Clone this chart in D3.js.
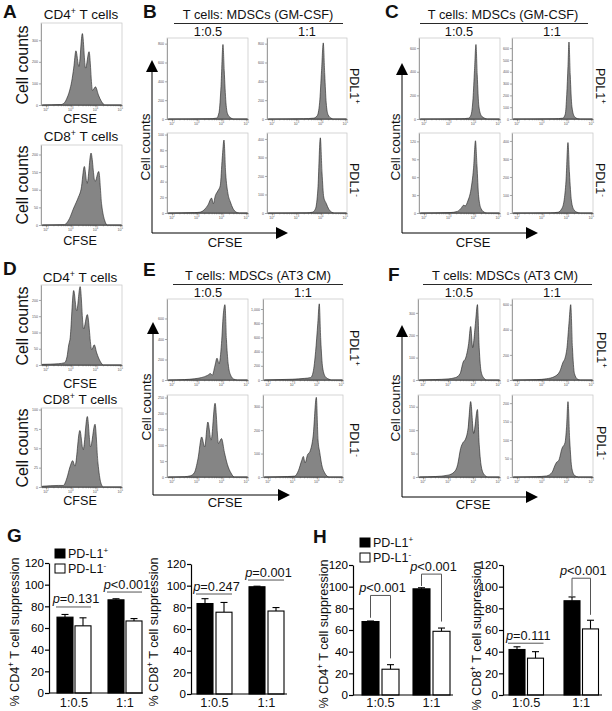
<!DOCTYPE html>
<html>
<head>
<meta charset="utf-8">
<script src="https://cdn.jsdelivr.net/npm/d3@7"></script>
<style>
  body { margin: 0; background: #fff; }
  svg { font-family: "Liberation Sans", Arial, sans-serif; }
</style>
</head>
<body>
<svg id="fig" width="612" height="711"></svg>
<script>
// ---- histogram data: [log10 CFSE, cell count] ----
var cfseDecades = [2, 3, 4, 5];

// A: CD4 / CD8 alone (GM-CSF experiment)
var hA4 = [[1.85,0],[2.6,2],[2.75,11],[2.84,30],[2.95,65],[3.04,110],[3.12,171],[3.21,251],[3.33,179],[3.47,331],[3.6,171],[3.74,247],[3.88,68],[4.0,84],[4.12,46],[4.25,15],[4.38,0],[5.05,0]];
var tA4 = [0, 100, 200, 300], topA4 = 380;
var hA8 = [[1.85,0],[2.75,1],[2.85,7],[2.98,23],[3.1,45],[3.22,64],[3.31,79],[3.42,102],[3.55,166],[3.66,118],[3.82,204],[3.98,123],[4.13,152],[4.25,57],[4.38,11],[4.48,0],[5.05,0]];
var tA8 = [0, 50, 100, 150, 200], topA8 = 227;

// B: CD4 + MDSCs (GM-CSF)
var hB1 = [[1.85,0],[3.5,3],[3.8,9],[3.9,69],[3.98,344],[4.06,791],[4.11,516],[4.18,172],[4.25,52],[4.35,17],[4.5,0],[5.05,0]];
var tB1 = [0, 200, 400, 600, 800], topB1 = 860;
var hB2 = [[1.85,0],[3.3,3],[3.7,9],[3.85,34],[3.95,172],[4.03,516],[4.1,808],[4.16,473],[4.22,172],[4.3,43],[4.42,9],[4.5,0],[5.05,0]];
var tB2 = [0, 200, 400, 600, 800], topB2 = 860;
var hB3 = [[1.85,0],[2.9,0.5],[3.13,1],[3.3,4],[3.45,10],[3.6,19],[3.67,12],[3.75,22],[3.85,28],[3.95,35],[4.03,70],[4.1,93],[4.17,50],[4.26,25],[4.36,14],[4.46,6],[4.6,1],[4.72,0],[5.05,0]];
var tB3 = [0, 20, 40, 60, 80, 100], topB3 = 102;
var hB4 = [[1.85,0],[3.4,1],[3.65,4],[3.78,22],[3.88,130],[3.98,406],[4.05,216],[4.12,86],[4.22,52],[4.32,22],[4.45,4],[4.55,0],[5.05,0]];
var tB4 = [0, 100, 200, 300, 400], topB4 = 432;

// C: CD8 + MDSCs (GM-CSF)
var hC1 = [[1.85,0],[3.5,2],[3.8,7],[3.9,34],[3.98,172],[4.04,412],[4.1,631],[4.15,377],[4.22,103],[4.32,27],[4.45,7],[4.55,0],[5.05,0]];
var tC1 = [0, 200, 400, 600], topC1 = 686;
var hC2 = [[1.85,0],[3.5,2],[3.85,7],[3.95,41],[4.01,206],[4.06,446],[4.1,652],[4.15,377],[4.22,103],[4.32,21],[4.45,3],[4.55,0],[5.05,0]];
var tC2 = [0, 100, 200, 300, 400, 500, 600], topC2 = 686;
var hC3 = [[1.85,0],[3.05,0.7],[3.35,2.7],[3.5,8],[3.6,13],[3.67,12],[3.77,20],[3.9,40],[4.0,74],[4.08,121],[4.14,80],[4.21,27],[4.31,7],[4.45,1],[4.55,0],[5.05,0]];
var tC3 = [0, 30, 60, 90, 120], topC3 = 134;
var hC4 = [[1.85,0],[3.35,1],[3.65,4],[3.8,22],[3.9,67],[3.98,178],[4.06,391],[4.12,222],[4.2,67],[4.3,18],[4.43,4],[4.55,0],[5.05,0]];
var tC4 = [0, 100, 200, 300, 400], topC4 = 444;

// D: CD4 / CD8 alone (AT3 CM experiment)
var hD4 = [[1.85,2],[2.5,4],[2.75,7],[2.85,25],[2.92,62],[2.97,79],[3.12,229],[3.24,167],[3.38,241],[3.52,111],[3.67,155],[3.85,47],[3.95,62],[4.05,37],[4.2,10],[4.32,0],[5.05,0]];
var tD4 = [0, 50, 100, 150, 200], topD4 = 246;
var hD8 = [[1.85,1],[2.5,2],[2.7,2],[2.85,12],[2.97,26],[3.08,34],[3.17,27],[3.37,73],[3.5,48],[3.67,91],[3.8,52],[3.98,81],[4.1,31],[4.22,5],[4.32,0],[5.05,0]];
var tD8 = [0, 25, 50, 75, 100], topD8 = 102;

// E: CD4 + MDSCs (AT3 CM)
var hE1 = [[1.85,0],[2.5,4],[2.9,12],[3.2,24],[3.45,47],[3.55,63],[3.63,47],[3.73,134],[3.82,213],[3.9,158],[4.0,356],[4.07,632],[4.14,735],[4.2,395],[4.27,158],[4.37,47],[4.5,8],[4.65,0],[5.05,0]];
var tE1 = [0, 200, 400, 600], topE1 = 790;
var hE2 = [[1.85,0],[2.5,6],[3.0,11],[3.5,23],[3.75,34],[3.85,114],[3.95,399],[4.04,799],[4.1,1073],[4.16,571],[4.24,171],[4.35,46],[4.5,11],[4.6,0],[5.05,0]];
var tE2 = [0, 200, 400, 600, 800, 1000], topE2 = 1141;
var hE3 = [[1.85,0],[2.5,1],[2.75,4],[2.9,13],[3.05,57],[3.2,126],[3.32,95],[3.45,173],[3.58,116],[3.74,232],[3.88,106],[4.0,121],[4.12,77],[4.24,39],[4.38,13],[4.52,0],[5.05,0]];
var tE3 = [0, 50, 100, 150, 200, 250], topE3 = 258;
var hE4 = [[1.85,0],[2.8,2],[3.1,4],[3.25,28],[3.38,70],[3.45,88],[3.52,60],[3.62,95],[3.72,109],[3.85,175],[3.98,340],[4.05,158],[4.12,105],[4.2,53],[4.32,18],[4.5,0],[5.05,0]];
var tE4 = [0, 100, 200, 300], topE4 = 350;

// F: CD8 + MDSCs (AT3 CM)
var hF1 = [[1.85,0],[2.5,2],[3.0,5],[3.3,11],[3.48,29],[3.6,80],[3.7,98],[3.82,163],[3.9,239],[3.98,145],[4.09,253],[4.17,337],[4.24,145],[4.32,36],[4.44,7],[4.55,0],[5.05,0]];
var tF1 = [0, 100, 200, 300], topF1 = 362;
var hF2 = [[1.85,0],[2.8,3],[3.2,10],[3.5,26],[3.72,65],[3.86,142],[3.94,174],[4.02,258],[4.1,452],[4.17,600],[4.24,258],[4.32,52],[4.45,6],[4.55,0],[5.05,0]];
var tF2 = [0, 200, 400, 600], topF2 = 645;
var hF3 = [[1.85,0],[2.5,1],[3.0,4],[3.25,11],[3.38,26],[3.5,61],[3.6,74],[3.68,79],[3.8,105],[3.9,161],[4.02,93],[4.17,144],[4.24,70],[4.34,18],[4.46,4],[4.6,0],[5.05,0]];
var tF3 = [0, 50, 100, 150], topF3 = 175;
var hF4 = [[1.85,0],[2.8,1],[3.2,3],[3.42,13],[3.53,31],[3.6,40],[3.68,44],[3.82,78],[3.94,93],[4.0,133],[4.06,204],[4.13,100],[4.22,22],[4.33,4],[4.48,0],[5.05,0]];
var tF4 = [0, 50, 100, 150, 200], topF4 = 222;

// ---- bar chart data (% suppression, mean and SEM) ----
var groups = ['1:0.5', '1:1'];
var pctTicks = [0, 20, 40, 60, 80, 100, 120];

var gCD4pos = [70, 86],   gCD4posErr = [2.5, 1];
var gCD4neg = [62, 66.5], gCD4negErr = [7.4, 2.2];
var gCD8pos = [83.5, 99], gCD8posErr = [4.5, 0.5];
var gCD8neg = [75.5, 76.6], gCD8negErr = [9, 3.2];

var hCD4pos = [67.8, 98], hCD4posErr = [0.5, 1];
var hCD4neg = [23.8, 58.8], hCD4negErr = [4.2, 3];
var hCD8pos = [42, 87],   hCD8posErr = [2.5, 3.5];
var hCD8neg = [34, 61],   hCD8negErr = [6, 8];

// p values: label, line level, bracket ends (pos side, neg side) or null for a flat line
var gCD4sig = [['=0.131', 79.4, null], ['<0.001', 93.2, null]];
var gCD8sig = [['=0.247', 92.3, null], ['=0.001', 105.2, null]];
var hCD4sig = [['<0.001', 91.9, [71.3, 33.8]], ['<0.001', 111.6, [100.6, 67.8]]];
var hCD8sig = [['=0.111', 47.8, null], ['<0.001', 107.8, [91, 74]]];

// ------------------------------------------------------------------
var svg = d3.select('#fig');
var FONT = '"Liberation Sans", Arial, sans-serif';

// text with superscripts / italics; parts = [[str, kind], ...]
function rich(sel, parts, fs) {
  var up = false;
  parts.forEach(function(p) {
    var t = sel.append('tspan').text(p[0]);
    if (p[1] === 'sup') {
      t.attr('font-size', fs * 0.65).attr('dy', -fs * 0.4);
      up = true;
    } else {
      if (up) { t.attr('dy', fs * 0.4); up = false; }
      if (p[1] === 'i') t.attr('font-style', 'italic');
    }
  });
}

function txt(x, y, parts, fs, anchor, rot, weight) {
  var t = svg.append('text')
      .attr('transform', 'translate(' + x + ',' + y + ')' + (rot ? ' rotate(' + rot + ')' : ''))
      .attr('font-size', fs)
      .attr('text-anchor', anchor || 'start')
      .attr('fill', '#111');
  if (weight) t.attr('font-weight', weight);
  if (typeof parts === 'string') t.text(parts);
  else rich(t, parts, fs);
  return t;
}

function styleAxis(sel, w, col, fs) {
  sel.selectAll('path, line').attr('stroke', col).attr('stroke-width', w);
  sel.selectAll('text').attr('font-size', fs).attr('font-family', FONT).attr('fill', col);
}

var LOG_MIN = 1.8, LOG_MAX = 5.07;

function histogram(box, pts, ticks, top) {
  var w = box[2], h = box[3];
  var g = svg.append('g').attr('transform', 'translate(' + box[0] + ',' + box[1] + ')');

  var x = d3.scaleLog().domain([Math.pow(10, LOG_MIN), Math.pow(10, LOG_MAX)]).range([0, w]);
  var y = d3.scaleLinear().domain([0, top]).range([h, 0]);

  var area = d3.area()
      .x(function(d) { return x(Math.pow(10, d[0])); })
      .y0(h)
      .y1(function(d) { return y(d[1]); })
      .curve(d3.curveMonotoneX);

  g.append('rect')
      .attr('width', w).attr('height', h)
      .attr('fill', 'none').attr('stroke', '#c4c4c4').attr('stroke-width', 0.7);

  g.append('path')
      .datum(pts)
      .attr('d', area)
      .attr('fill', '#858585')
      .attr('stroke', '#1e1e1e')
      .attr('stroke-width', 0.6);

  var ya = g.append('g').call(d3.axisLeft(y).tickValues(ticks).tickSize(2).tickSizeOuter(0).tickPadding(1));
  styleAxis(ya, 0.5, '#555', 3.6);

  var decadeVals = cfseDecades.map(function(k) { return Math.pow(10, k); });
  var xm = g.append('g').attr('transform', 'translate(0,' + h + ')')
      .call(d3.axisBottom(x).tickValues(x.ticks()).tickSize(1.3).tickFormat('').tickSizeOuter(0));
  styleAxis(xm, 0.5, '#555', 3.6);
  var xa = g.append('g').attr('transform', 'translate(0,' + h + ')')
      .call(d3.axisBottom(x).tickValues(decadeVals).tickSize(2.4).tickFormat('').tickSizeOuter(0));
  styleAxis(xa, 0.5, '#555', 3.6);

  g.selectAll('.xlab')
      .data(cfseDecades)
      .enter().append('text')
      .attr('x', function(k) { return x(Math.pow(10, k)); })
      .attr('y', h + 5.6)
      .attr('text-anchor', 'middle')
      .attr('font-size', 3.6)
      .attr('fill', '#555')
      .each(function(k) {
        var t = d3.select(this);
        t.append('tspan').text('10');
        t.append('tspan').attr('dy', -1.3).attr('font-size', 2.6).text(k);
      });
}

function arrows(ax, tipY, baseY, tipX) {
  var g = svg.append('g').attr('fill', '#000').attr('stroke', '#000');
  g.append('line').attr('x1', ax).attr('y1', baseY).attr('x2', ax).attr('y2', tipY + 10).attr('stroke-width', 1);
  g.append('line').attr('x1', ax).attr('y1', baseY).attr('x2', tipX - 10).attr('y2', baseY).attr('stroke-width', 1);
  g.append('path').attr('stroke', 'none')
      .attr('d', 'M' + ax + ',' + tipY + 'L' + (ax + 6) + ',' + (tipY + 12) + 'L' + (ax - 6) + ',' + (tipY + 12) + 'Z');
  g.append('path').attr('stroke', 'none')
      .attr('d', 'M' + tipX + ',' + baseY + 'L' + (tipX - 12) + ',' + (baseY - 6) + 'L' + (tipX - 12) + ',' + (baseY + 6) + 'Z');
}

function header(cx, y, x1, x2, title) {
  txt(cx, y, title, 12.8, 'middle');
  svg.append('line').attr('x1', x1).attr('x2', x2).attr('y1', y + 4.5).attr('y2', y + 4.5)
      .attr('stroke', '#111').attr('stroke-width', 0.9);
}

// ---- histogram layout ----
var histPanels = [
  [hA4, tA4, topA4, [41, 23, 81, 82]],
  [hA8, tA8, topA8, [41, 145, 81, 80]],
  [hB1, tB1, topB1, [167, 38, 81, 81]],
  [hB2, tB2, topB2, [267, 38, 80, 81]],
  [hB3, tB3, topB3, [167, 133, 81, 80]],
  [hB4, tB4, topB4, [267, 133, 80, 80]],
  [hC1, tC1, topC1, [419, 38, 81, 81]],
  [hC2, tC2, topC2, [512, 38, 81, 81]],
  [hC3, tC3, topC3, [419, 133, 81, 80]],
  [hC4, tC4, topC4, [512, 133, 81, 80]],
  [hD4, tD4, topD4, [41, 285, 81, 80]],
  [hD8, tD8, topD8, [41, 408, 81, 79]],
  [hE1, tE1, topE1, [167, 299, 81, 81]],
  [hE2, tE2, topE2, [263, 299, 80, 81]],
  [hE3, tE3, topE3, [167, 395, 81, 82]],
  [hE4, tE4, topE4, [263, 395, 80, 82]],
  [hF1, tF1, topF1, [418, 299, 82, 81]],
  [hF2, tF2, topF2, [512, 299, 81, 81]],
  [hF3, tF3, topF3, [418, 395, 82, 82]],
  [hF4, tF4, topF4, [512, 395, 81, 82]]
];
histPanels.forEach(function(p) { histogram(p[3], p[0], p[1], p[2]); });

// panel letters
[['A', 3, 18], ['B', 143, 18], ['C', 385, 18], ['D', 3, 275], ['E', 143, 276], ['F', 388, 281], ['G', 7, 542], ['H', 313, 543]]
  .forEach(function(l) { txt(l[1], l[2], l[0], 19, 'start', 0, 'bold'); });

// A / D labels
var cd4 = [['CD4', ''], ['+', 'sup'], [' T cells', '']];
var cd8 = [['CD8', ''], ['+', 'sup'], [' T cells', '']];
txt(81, 19, cd4, 13.5, 'middle');
txt(81, 141, cd8, 13.5, 'middle');
txt(80, 282, cd4, 13.5, 'middle');
txt(80, 404, cd8, 13.5, 'middle');
[[123], [245], [388], [505]].forEach(function(r) { txt(80, r[0], 'CFSE', 12.6, 'middle'); });
[[65], [185], [326], [448]].forEach(function(r) { txt(28, r[0], 'Cell counts', 16, 'middle', -90); });

// B, C, E, F headers and labels
header(258, 19, 174, 343, 'T cells: MDSCs (GM-CSF)');
header(503, 19, 420, 588, 'T cells: MDSCs (GM-CSF)');
header(258, 280, 173, 343, 'T cells: MDSCs (AT3 CM)');
header(505, 280, 423, 592, 'T cells: MDSCs (AT3 CM)');

[[208, 36], [307, 36], [459, 36], [552, 36], [208, 297], [303, 297], [459, 297], [552, 297]]
  .forEach(function(r, i) { txt(r[0], r[1], i % 2 ? '1:1' : '1:0.5', 12.8, 'middle'); });

var pdlPos = [['PDL1', ''], ['+', 'sup']];
var pdlNeg = [['PDL1', ''], ['-', 'sup']];
[[350, 86, pdlPos], [350, 180, pdlNeg], [596, 86, pdlPos], [596, 180, pdlNeg],
 [350, 348, pdlPos], [350, 440, pdlNeg], [597, 350, pdlPos], [597, 443, pdlNeg]]
  .forEach(function(r) { txt(r[0], r[1], r[2], 12.5, 'middle', 90); });

arrows(152, 60, 233, 288);
arrows(402, 63, 233, 538);
arrows(153, 322, 495, 290);
arrows(402, 325, 497, 538);

txt(225, 247, 'CFSE', 13, 'middle');
txt(473, 247, 'CFSE', 13, 'middle');
txt(225, 507, 'CFSE', 13, 'middle');
txt(473, 509, 'CFSE', 13, 'middle');
txt(150, 147, 'Cell counts', 13.5, 'middle', -90);
txt(400, 147, 'Cell counts', 13.5, 'middle', -90);
txt(151, 407, 'Cell counts', 13.5, 'middle', -90);
txt(400, 408, 'Cell counts', 13.5, 'middle', -90);

// ---- bar charts ----
function barChart(cfg) {
  var y = d3.scaleLinear().domain([0, 120]).range([cfg.y0, cfg.y120]);
  var gx = d3.scaleBand().domain(groups).range([cfg.x0, cfg.x0 + 2 * cfg.step]);
  var sx = d3.scaleBand().domain(['pos', 'neg'])
      .range([0, 2 * cfg.barW + cfg.gap])
      .paddingInner(cfg.gap / (cfg.barW + cfg.gap));
  var bw = sx.bandwidth();
  var g = svg.append('g');

  var series = [
    { key: 'pos', vals: cfg.pos, err: cfg.posErr, fill: '#000' },
    { key: 'neg', vals: cfg.neg, err: cfg.negErr, fill: '#fff' }
  ];

  series.forEach(function(s) {
    var rows = groups.map(function(c, i) { return { c: c, v: s.vals[i], e: s.err[i] }; });
    var cx = function(d) { return gx(d.c) + sx(s.key) + bw / 2; };
    g.selectAll(null).data(rows).enter().append('line')
        .attr('x1', cx).attr('x2', cx)
        .attr('y1', function(d) { return y(d.v); })
        .attr('y2', function(d) { return y(d.v + d.e); })
        .attr('stroke', '#000').attr('stroke-width', 1.1);
    g.selectAll(null).data(rows).enter().append('line')
        .attr('x1', function(d) { return cx(d) - 3.5; })
        .attr('x2', function(d) { return cx(d) + 3.5; })
        .attr('y1', function(d) { return y(d.v + d.e); })
        .attr('y2', function(d) { return y(d.v + d.e); })
        .attr('stroke', '#000').attr('stroke-width', 1.1);
    g.selectAll(null).data(rows).enter().append('rect')
        .attr('x', function(d) { return gx(d.c) + sx(s.key); })
        .attr('y', function(d) { return y(d.v); })
        .attr('width', bw)
        .attr('height', function(d) { return cfg.y0 - y(d.v); })
        .attr('fill', s.fill)
        .attr('stroke', '#000').attr('stroke-width', 1.1);
  });

  var ya = g.append('g').attr('transform', 'translate(' + cfg.axisX + ',0)')
      .call(d3.axisLeft(y).tickValues(pctTicks).tickSize(4).tickSizeOuter(0).tickPadding(1));
  styleAxis(ya, 1.2, '#000', 11.6);

  g.append('line')
      .attr('x1', cfg.axisX).attr('x2', cfg.axisEnd)
      .attr('y1', cfg.y0).attr('y2', cfg.y0)
      .attr('stroke', '#000').attr('stroke-width', 1.2);

  groups.forEach(function(c) {
    txt(gx(c) + sx.bandwidth() + cfg.gap / 2, 707, c, 12.8, 'middle');
  });

  // significance
  cfg.sig.forEach(function(s, i) {
    var c = groups[i];
    var xp = gx(c) + sx('pos') + bw / 2, xn = gx(c) + sx('neg') + bw / 2;
    var ly = y(s[1]);
    if (s[2]) {
      g.append('path')
          .attr('d', 'M' + xp + ',' + y(s[2][0]) + 'V' + ly + 'H' + xn + 'V' + y(s[2][1]))
          .attr('fill', 'none').attr('stroke', '#555').attr('stroke-width', 1);
    } else {
      g.append('line')
          .attr('x1', gx(c) + sx('pos') - 1).attr('x2', gx(c) + sx('neg') + bw)
          .attr('y1', ly).attr('y2', ly)
          .attr('stroke', '#555').attr('stroke-width', 1);
    }
    txt((xp + xn) / 2 + 2, ly - 3.5, [['p', 'i'], [s[0], '']], 12.8, 'middle');
  });

  txt(cfg.labX, cfg.labY, [['% ' + cfg.cell, ''], ['+', 'sup'], [' T cell suppression', '']], 12.6, 'middle', -90);
}

function legend(x, y) {
  svg.append('rect').attr('x', x).attr('y', y).attr('width', 10).attr('height', 9)
      .attr('fill', '#000').attr('stroke', '#000').attr('stroke-width', 1);
  svg.append('rect').attr('x', x).attr('y', y + 15).attr('width', 10).attr('height', 9)
      .attr('fill', '#fff').attr('stroke', '#000').attr('stroke-width', 1);
  txt(x + 13, y + 9, [['PD-L1', ''], ['+', 'sup']], 12.5, 'start');
  txt(x + 13, y + 24, [['PD-L1', ''], ['-', 'sup']], 12.5, 'start');
}

barChart({ axisX: 49, y0: 693, y120: 563, x0: 57, step: 51, barW: 16, gap: 2, axisEnd: 143,
  pos: gCD4pos, posErr: gCD4posErr, neg: gCD4neg, negErr: gCD4negErr, sig: gCD4sig,
  cell: 'CD4', labX: 19, labY: 632 });
barChart({ axisX: 191, y0: 694, y120: 564, x0: 197, step: 52, barW: 16, gap: 3, axisEnd: 287,
  pos: gCD8pos, posErr: gCD8posErr, neg: gCD8neg, negErr: gCD8negErr, sig: gCD8sig,
  cell: 'CD8', labX: 158, labY: 632 });
barChart({ axisX: 353, y0: 695, y120: 565, x0: 362, step: 51, barW: 17, gap: 3, axisEnd: 453,
  pos: hCD4pos, posErr: hCD4posErr, neg: hCD4neg, negErr: hCD4negErr, sig: hCD4sig,
  cell: 'CD4', labX: 328, labY: 634 });
barChart({ axisX: 503, y0: 695, y120: 565, x0: 509, step: 55, barW: 16, gap: 2.5, axisEnd: 602,
  pos: hCD8pos, posErr: hCD8posErr, neg: hCD8neg, negErr: hCD8negErr, sig: hCD8sig,
  cell: 'CD8', labX: 481, labY: 636 });

legend(55, 549);
legend(360, 538);
</script>
</body>
</html>
